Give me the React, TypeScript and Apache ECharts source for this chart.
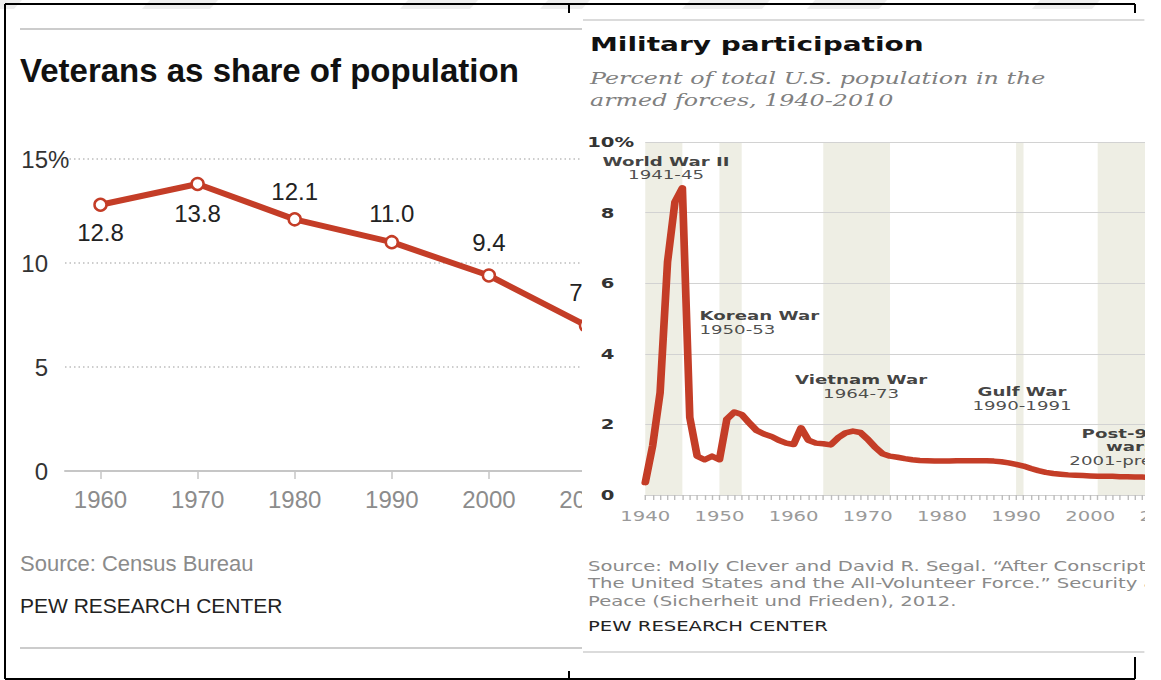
import React, { useEffect, useRef } from "react";
import * as echarts from "echarts";

// ---------- Left chart: Veterans as share of population ----------
const vetYears = [1960, 1970, 1980, 1990, 2000, 2010];
const vetShare = [12.8, 13.8, 12.1, 11.0, 9.4, 7.0];
const vetLabelSide = ["bottom", "bottom", "top", "top", "top", "top"];
const vetLabelGap = [8, 10, 9, 9, 14, 14];

// ---------- Right chart: Military participation ----------
const milYears = [
  1940, 1941, 1942, 1943, 1944, 1945, 1946, 1947, 1948, 1949,
  1950, 1951, 1952, 1953, 1954, 1955, 1956, 1957, 1958, 1959,
  1960, 1961, 1962, 1963, 1964, 1965, 1966, 1967, 1968, 1969,
  1970, 1971, 1972, 1973, 1974, 1975, 1976, 1977, 1978, 1979,
  1980, 1981, 1982, 1983, 1984, 1985, 1986, 1987, 1988, 1989,
  1990, 1991, 1992, 1993, 1994, 1995, 1996, 1997, 1998, 1999,
  2000, 2001, 2002, 2003, 2004, 2005, 2006, 2007, 2008, 2009, 2010,
];
const milShare = [
  0.35, 1.4, 2.9, 6.6, 8.3, 8.7, 2.2, 1.1, 1.0, 1.1,
  1.0, 2.15, 2.35, 2.28, 2.05, 1.83, 1.73, 1.66, 1.55, 1.47,
  1.43, 1.9, 1.55, 1.47, 1.45, 1.42, 1.62, 1.76, 1.81, 1.77,
  1.58, 1.35, 1.17, 1.1, 1.07, 1.03, 1.0, 0.98, 0.97, 0.96,
  0.96, 0.96, 0.97, 0.97, 0.97, 0.97, 0.97, 0.96, 0.94, 0.91,
  0.87, 0.82, 0.75, 0.69, 0.64, 0.61, 0.59, 0.57, 0.56, 0.55,
  0.54, 0.53, 0.53, 0.53, 0.52, 0.52, 0.51, 0.51, 0.5, 0.5, 0.5,
];
const warNames = ["World War II", "Korean War", "Vietnam War", "Gulf War", "Post-9/11\nwars"];
const warSpans = ["1941-45", "1950-53", "1964-73", "1990-1991", "2001-present"];
const warStart = [1940, 1950, 1964, 1990, 2001];
const warEnd = [1945, 1953, 1973, 1991, 2010];
// annotation anchors (data units) and alignment
const warLabelX = [1942.8, 1947.3, 1969.1, 1990.8, 2005.4];
const warLabelY = [9.26, 4.89, 3.07, 2.73, 1.37];
const warLabelAlign = ["center", "left", "center", "center", "center"];

const sourceLines = [
  "Source: Molly Clever and David R. Segal. \u201cAfter Conscription:",
  "The United States and the All-Volunteer Force.\u201d Security and",
  "Peace (Sicherheit und Frieden), 2012.",
];

const LEFT_FONT = "'Liberation Sans', Arial, sans-serif";
const RIGHT_FONT = "'DejaVu Sans', sans-serif";
const RED = "#c43d27";
const STRETCH = 1.4;

function txt(x: number, y: number, text: string, font: string, fill: string, align = "left") {
  return {
    type: "text",
    x,
    y,
    silent: true,
    style: { text, font, fill, textAlign: align, textVerticalAlign: "middle", verticalAlign: "middle" },
  };
}
function hline(x1: number, x2: number, y: number, stroke: string, w: number) {
  return { type: "line", silent: true, shape: { x1, y1: y, x2, y2: y }, style: { stroke, lineWidth: w } };
}
function vline(x: number, y1: number, y2: number, stroke: string, w: number) {
  return { type: "line", silent: true, shape: { x1: x, y1, x2: x, y2 }, style: { stroke, lineWidth: w } };
}

function leftOption(): any {
  return {
    animation: false,
    grid: { left: 65, right: 94.6, top: 159, bottom: 209 },
    xAxis: {
      type: "value",
      min: 1956.344,
      max: 2012,
      axisLine: { show: true, lineStyle: { color: "#c6c6c6", width: 2 } },
      axisTick: { show: true, customValues: vetYears, length: 8, lineStyle: { color: "#c6c6c6", width: 1.5 } },
      axisLabel: {
        customValues: vetYears,
        margin: 16,
        color: "#8c8c8c",
        fontSize: 24,
        fontFamily: LEFT_FONT,
        formatter: (v: number) => String(v),
      },
      splitLine: { show: false },
    },
    yAxis: {
      type: "value",
      min: 0,
      max: 15,
      interval: 5,
      axisLine: { show: false },
      axisTick: { show: false },
      axisLabel: {
        margin: 17,
        color: "#333",
        fontSize: 24,
        fontFamily: LEFT_FONT,
        formatter: (v: number) => (v === 15 ? "{n|15}{p|%}" : String(v)),
        rich: {
          n: { fontSize: 24, color: "#333", fontFamily: LEFT_FONT, align: "left" },
          p: { fontSize: 24, color: "#333", fontFamily: LEFT_FONT, width: 0, align: "left" },
        },
      },
      splitLine: { show: true, showMinLine: false, lineStyle: { color: "#bdbdbd", type: [1.5, 3], width: 1.5 } },
    },
    series: [
      {
        type: "line",
        z: 5,
        data: vetYears.map((y, i) => ({
          value: [y, vetShare[i]],
          label: { position: vetLabelSide[i], distance: vetLabelGap[i] },
        })),
        symbol: "circle",
        symbolSize: 12,
        itemStyle: { color: "#fff", borderColor: RED, borderWidth: 2.5 },
        lineStyle: { color: RED, width: 6, join: "round" },
        label: {
          show: true,
          color: "#222",
          fontSize: 24,
          fontFamily: LEFT_FONT,
          formatter: (p: any) => Number(p.value[1]).toFixed(1),
        },
      },
    ],
    graphic: [
      hline(20, 582, 29, "#cccccc", 2),
      txt(20, 70, "Veterans as share of population", `bold 33px ${LEFT_FONT}`, "#111"),
      txt(20, 563, "Source: Census Bureau", `22px ${LEFT_FONT}`, "#8b8b8b"),
      txt(20, 605, "PEW RESEARCH CENTER", `21px ${LEFT_FONT}`, "#222"),
      hline(20, 582, 648, "#cccccc", 2),
    ],
  };
}

function rightOption(): any {
  return {
    animation: false,
    grid: { left: 44.3, right: 24.7, top: 142, bottom: 185 },
    xAxis: {
      type: "value",
      min: 1940,
      max: 2010,
      interval: 10,
      z: 3,
      axisLine: { show: true, lineStyle: { color: "#d0d0d0", width: 1 } },
      axisTick: { show: true, length: 5, lineStyle: { color: "#bdbdbd", width: 1 } },
      minorTick: { show: true, splitNumber: 10, length: 5, lineStyle: { color: "#bdbdbd", width: 1 } },
      axisLabel: { margin: 14, color: "#9a9a9a", fontSize: 14, fontFamily: RIGHT_FONT, formatter: (v: number) => String(v) },
      splitLine: { show: false },
    },
    yAxis: {
      type: "value",
      min: 0,
      max: 10,
      interval: 2,
      z: 2,
      axisLine: { show: false },
      axisTick: { show: false },
      axisLabel: {
        margin: 22,
        color: "#333",
        fontSize: 14,
        fontWeight: "bold",
        fontFamily: RIGHT_FONT,
        formatter: (v: number) => (v === 10 ? "{n|10}{p|%}" : String(v)),
        rich: {
          n: { fontSize: 14, fontWeight: "bold", color: "#333", fontFamily: RIGHT_FONT, align: "left" },
          p: { fontSize: 14, fontWeight: "bold", color: "#333", fontFamily: RIGHT_FONT, width: 0, align: "left" },
        },
      },
      splitLine: { show: true, lineStyle: { color: "#d2d2d2", width: 1 } },
    },
    series: [
      {
        type: "line",
        z: 1,
        data: [
          [1940, 0],
          [2010, 0],
        ],
        symbol: "none",
        lineStyle: { opacity: 0, width: 0 },
        silent: true,
        markArea: {
          silent: true,
          z: 1,
          itemStyle: { color: "#eeeee4" },
          data: warStart.map((s, i) => [{ xAxis: s }, { xAxis: warEnd[i] }]),
        },
      },
      {
        type: "line",
        z: 5,
        data: milYears.map((y, i) => [y, milShare[i]]),
        symbol: "none",
        showSymbol: false,
        lineStyle: { color: RED, width: 5.5, join: "round", cap: "round" },
      },
      {
        type: "scatter",
        z: 6,
        symbolSize: 1,
        itemStyle: { color: "rgba(0,0,0,0)" },
        silent: true,
        data: warNames.map((n, i) => ({
          value: [warLabelX[i], warLabelY[i]],
          label: { align: warLabelAlign[i] },
        })),
        label: {
          show: true,
          position: "inside",
          formatter: (p: any) => `{b|${warNames[p.dataIndex].replace("\n", "}\n{b|")}}\n{r|${warSpans[p.dataIndex]}}`,
          rich: {
            b: { fontSize: 13, fontWeight: "bold", color: "#111", fontFamily: RIGHT_FONT, lineHeight: 13.5 },
            r: { fontSize: 13, color: "#222", fontFamily: RIGHT_FONT, lineHeight: 13.5 },
          },
        },
      },
    ],
    graphic: [
      hline(0, 401, 20, "#cfcfcf", 1.5),
      txt(5, 44, "Military participation", `bold 20px ${RIGHT_FONT}`, "#111"),
      txt(5, 78, "Percent of total U.S. population in the", `italic 17px 'DejaVu Serif', serif`, "#808080"),
      txt(5, 100, "armed forces, 1940-2010", `italic 17px 'DejaVu Serif', serif`, "#808080"),
      ...sourceLines.map((s, i) => txt(3.6, 566 + i * 17.5, s, `14px ${RIGHT_FONT}`, "#8a8a8a")),
      txt(3.6, 626, "PEW RESEARCH CENTER", `14px ${RIGHT_FONT}`, "#222"),
      hline(0, 401, 652, "#cfcfcf", 1.5),
    ],
  };
}

function overlayOption(): any {
  const marks = [
    [0, 22],
    [150, 218],
    [408, 478],
    [548, 590],
    [690, 770],
    [815, 887],
    [1040, 1100],
  ];
  return {
    animation: false,
    graphic: [
      ...marks.map(([a, b]) => ({
        type: "polygon",
        silent: true,
        shape: { points: [[a, 0], [b, 0], [b - 8, 9], [a - 8, 9]] },
        style: { fill: "#eeeeee" },
      })),
      hline(5, 1135, 4, "#000", 2),
      vline(5, 4, 679, "#000", 2),
      hline(5, 1135, 679, "#000", 2),
      vline(1135, 4, 13, "#000", 2),
      vline(1135, 657, 679, "#000", 2),
      vline(569, 4, 13, "#000", 2),
      vline(569, 671, 679, "#000", 2),
    ],
  };
}

export default function App() {
  const leftRef = useRef<HTMLDivElement>(null);
  const rightRef = useRef<HTMLDivElement>(null);
  const overRef = useRef<HTMLDivElement>(null);

  useEffect(() => {
    document.body.style.margin = "0";
    const l = echarts.init(leftRef.current!, undefined, { renderer: "svg" });
    l.setOption(leftOption());
    const r = echarts.init(rightRef.current!, undefined, { renderer: "svg" });
    r.setOption(rightOption());
    const o = echarts.init(overRef.current!, undefined, { renderer: "svg" });
    o.setOption(overlayOption());
    return () => {
      l.dispose();
      r.dispose();
      o.dispose();
    };
  }, []);

  return (
    <div style={{ position: "relative", width: 1161, height: 680, background: "#fff", overflow: "hidden" }}>
      <div style={{ position: "absolute", left: 0, top: 0, width: 582, height: 680, overflow: "hidden" }}>
        <div ref={leftRef} style={{ width: 700, height: 680 }} />
      </div>
      <div style={{ position: "absolute", left: 583, top: 0, width: 562, height: 680, overflow: "hidden" }}>
        <div
          ref={rightRef}
          style={{ width: 440, height: 680, transform: `scaleX(${STRETCH})`, transformOrigin: "0 0" }}
        />
      </div>
      <div
        ref={overRef}
        style={{ position: "absolute", left: 0, top: 0, width: 1161, height: 680, pointerEvents: "none" }}
      />
    </div>
  );
}
